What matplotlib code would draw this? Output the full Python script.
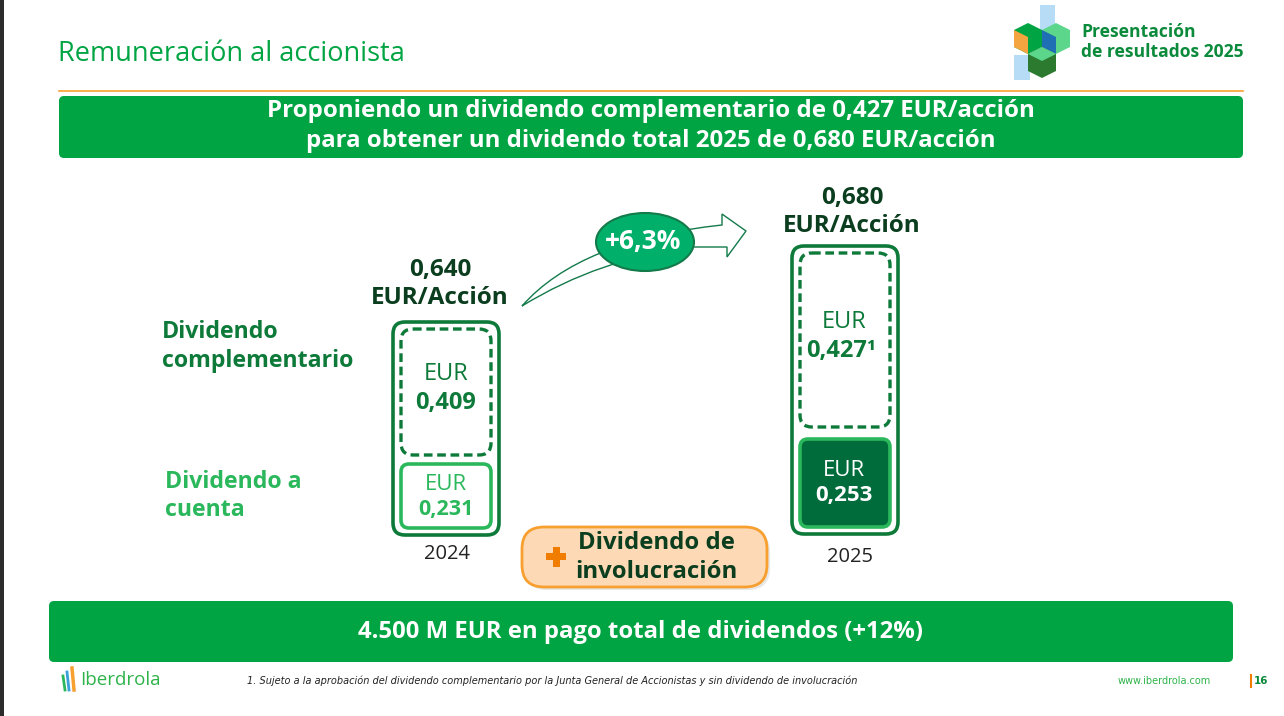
import matplotlib
matplotlib.use('Agg')
import matplotlib.pyplot as plt
from matplotlib.patches import FancyBboxPatch, Ellipse, Polygon, PathPatch, Rectangle
from matplotlib.path import Path

# data
years = ['2024', '2025']
a_cuenta = [0.231, 0.253]
complementario = [0.409, 0.427]
totales = [0.640, 0.680]
crecimiento = '+6,3%'
pago_total = '4.500'
pago_crec = '+12%'

GREEN = '#00a443'
DARK = '#0e7a3a'
LIGHT = '#2bb85c'
TXT = '#0b3d1f'
FILL = '#006c3b'

plt.rcParams['font.family'] = ['Open Sans', 'DejaVu Sans']

def fmt(v):
    return f'{v:.3f}'.replace('.', ',')

fig = plt.figure(figsize=(12.84, 7.16), dpi=100)
ax = fig.add_axes([0, 0, 1, 1])
ax.set_xlim(0, 1284)
ax.set_ylim(716, 0)
ax.axis('off')

def rbox(x, y, w, h, r, **kw):
    p = FancyBboxPatch((x, y), w, h, boxstyle=f'round,pad=0,rounding_size={r}', **kw)
    ax.add_patch(p)
    return p

# left dark strip
ax.add_patch(Rectangle((0, 0), 4, 716, color='#2b2b2b', lw=0))

# header
ax.text(58, 54, 'Remuneración al accionista', color=GREEN, fontsize=19.5,
        va='center', ha='left')
ax.plot([59, 1243], [91, 91], color='#f7a030', lw=1.2)
rbox(59, 96, 1184, 62, 5, facecolor=GREEN, edgecolor='none')
ax.text(651, 111, f'Proponiendo un dividendo complementario de {fmt(complementario[1])} EUR/acción',
        color='white', fontsize=17.3, fontweight='bold', ha='center', va='center')
ax.text(651, 141, f'para obtener un dividendo total {years[1]} de {fmt(totales[1])} EUR/acción',
        color='white', fontsize=17.3, fontweight='bold', ha='center', va='center')

# logo (rough cubes)
ax.add_patch(Rectangle((1040, 5), 15, 25, facecolor='#b7dcf5', edgecolor='none'))
ax.add_patch(Rectangle((1014, 55), 16, 25, facecolor='#b7dcf5', edgecolor='none'))
ax.add_patch(Polygon([(1014, 30), (1028, 23), (1042, 30), (1042, 47), (1028, 54), (1014, 47)],
                     facecolor='#00a443', edgecolor='none'))
ax.add_patch(Polygon([(1014, 30), (1028, 37), (1028, 54), (1014, 47)], facecolor='#f5a540', edgecolor='none'))
ax.add_patch(Polygon([(1042, 30), (1056, 23), (1070, 30), (1070, 47), (1056, 54), (1042, 47)],
                     facecolor='#5bd68a', edgecolor='none'))
ax.add_patch(Polygon([(1042, 30), (1056, 37), (1056, 54), (1042, 47)], facecolor='#1f6fb5', edgecolor='none'))
ax.add_patch(Polygon([(1028, 54), (1042, 47), (1056, 54), (1056, 71), (1042, 78), (1028, 71)],
                     facecolor='#2c7a2f', edgecolor='none'))
ax.add_patch(Polygon([(1028, 54), (1042, 47), (1056, 54), (1042, 61)], facecolor='#5bd68a', edgecolor='none'))
ax.text(1081, 32, 'Presentación', color='#0b8a3c', fontsize=12.6, fontweight='bold', va='center')
ax.text(1081, 52, 'de resultados 2025', color='#0b8a3c', fontsize=12.6, fontweight='bold', va='center')

# side labels
ax.text(162, 332, 'Dividendo', color=DARK, fontsize=16.7, fontweight='bold', va='center')
ax.text(162, 361, 'complementario', color=DARK, fontsize=16.7, fontweight='bold', va='center')
ax.text(165, 482, 'Dividendo a', color=LIGHT, fontsize=16.7, fontweight='bold', va='center')
ax.text(165, 510, 'cuenta', color=LIGHT, fontsize=16.7, fontweight='bold', va='center')

# columns: (outer x, outer top, outer bottom, dashed bottom, lower top)
cols = [dict(x=393, top=322, bot=535, dbot=455, ltop=464, cx=446, lab_y=554, tot_y=270),
        dict(x=792, top=246, bot=534, dbot=427, ltop=439, cx=844, lab_y=557, tot_y=198)]

for i, c in enumerate(cols):
    w = 106
    rbox(c['x'], c['top'], w, c['bot'] - c['top'], 12, facecolor='white', edgecolor=DARK, lw=2.6)
    rbox(c['x'] + 8, c['top'] + 7, w - 16, c['dbot'] - c['top'] - 7, 12,
         facecolor='none', edgecolor=DARK, lw=2.4, linestyle=(0, (2.6, 1.4)))
    lh = c['bot'] - 7 - c['ltop']
    if i == 0:
        rbox(c['x'] + 8, c['ltop'], w - 16, lh, 8, facecolor='white', edgecolor=LIGHT, lw=2.6)
        lc = LIGHT
    else:
        rbox(c['x'] + 8, c['ltop'], w - 16, lh, 8, facecolor=FILL, edgecolor=LIGHT, lw=2.6)
        lc = 'white'
    mid_d = (c['top'] + c['dbot']) / 2
    ax.text(c['cx'], mid_d - 14, 'EUR', color=DARK, fontsize=17, ha='center', va='center')
    sup = '¹' if i == 1 else ''
    ax.text(c['cx'] - (0 if i == 0 else 3), mid_d + 14, fmt(complementario[i]) + sup, color=DARK,
            fontsize=17, fontweight='bold', ha='center', va='center')
    mid_l = c['ltop'] + lh / 2
    ax.text(c['cx'], mid_l - 12, 'EUR', color=lc, fontsize=16, ha='center', va='center')
    ax.text(c['cx'], mid_l + 13, fmt(a_cuenta[i]), color=lc, fontsize=16 if i else 15.5,
            fontweight='bold', ha='center', va='center')
    ax.text(c['cx'] + (-6 if i == 0 else 8), c['tot_y'], fmt(totales[i]), color=TXT, fontsize=17.5,
            fontweight='bold', ha='center', va='center')
    ax.text(c['cx'] + (-6 if i == 0 else 8), c['tot_y'] + 28, 'EUR/Acción', color=TXT, fontsize=17.5,
            fontweight='bold', ha='center', va='center')
    ax.text(c['cx'] + (1 if i == 0 else 6), c['lab_y'], years[i], color='#222222', fontsize=14.5,
            ha='center', va='center')

# growth arrow
verts = [(522, 306), (580, 240), (722, 225), (722, 214), (746, 231), (727, 257),
         (727, 247), (693, 247), (600, 258), (522, 306)]
codes = [Path.MOVETO, Path.CURVE3, Path.CURVE3, Path.LINETO, Path.LINETO, Path.LINETO,
         Path.LINETO, Path.LINETO, Path.CURVE3, Path.CURVE3]
ax.add_patch(PathPatch(Path(verts, codes), facecolor='white', edgecolor='#137a4a', lw=1))
ax.add_patch(Ellipse((645, 242), 98, 58, facecolor='#00b06a', edgecolor='#137a4a', lw=1.5))
ax.text(643, 241, crecimiento, color='white', fontsize=19, fontweight='bold', ha='center', va='center')

# involucracion pill
rbox(525, 530, 245, 60, 22, facecolor='#d9d9d9', edgecolor='none', alpha=0.6)
rbox(522, 527, 245, 60, 22, facecolor='#fdd9b5', edgecolor='#f7a030', lw=2)
ax.add_patch(Rectangle((546, 553), 20, 7, facecolor='#f07c00', edgecolor='none'))
ax.add_patch(Rectangle((552.5, 546.5), 7, 20, facecolor='#f07c00', edgecolor='none'))
ax.text(656, 543, 'Dividendo de', color=TXT, fontsize=17.2, fontweight='bold', ha='center', va='center')
ax.text(656, 572, 'involucración', color=TXT, fontsize=17.2, fontweight='bold', ha='center', va='center')

# bottom banner
rbox(49, 601, 1184, 61, 5, facecolor=GREEN, edgecolor='none')
ax.text(641, 632, f'{pago_total} M EUR en pago total de dividendos ({pago_crec})', color='white',
        fontsize=17.2, fontweight='bold', ha='center', va='center')

# footer
ax.plot([63, 65], [676, 690], color=LIGHT, lw=2)
ax.plot([67, 69], [672, 690], color='#3aa0d8', lw=2)
ax.plot([72, 74], [668, 690], color='#f7a030', lw=2.5)
ax.text(80, 680, 'Iberdrola', color='#2eb34a', fontsize=13.5, va='center')
ax.text(247, 681, '1. Sujeto a la aprobación del dividendo complementario por la Junta General de Accionistas y sin dividendo de involucración',
        color='#222222', fontsize=7, fontstyle='italic', va='center',
        family=['Liberation Sans Narrow', 'DejaVu Sans'])
ax.text(1118, 681, 'www.iberdrola.com', color='#2eb34a', fontsize=7, va='center',
        family=['Liberation Sans Narrow', 'DejaVu Sans'])
ax.plot([1251, 1251], [675, 687], color='#f07c00', lw=1.5)
ax.text(1254, 681, '16', color='#0b8a3c', fontsize=7.5, fontweight='bold', va='center',
        family=['Liberation Sans Narrow', 'DejaVu Sans'])

fig.savefig('out.png', dpi=100)
